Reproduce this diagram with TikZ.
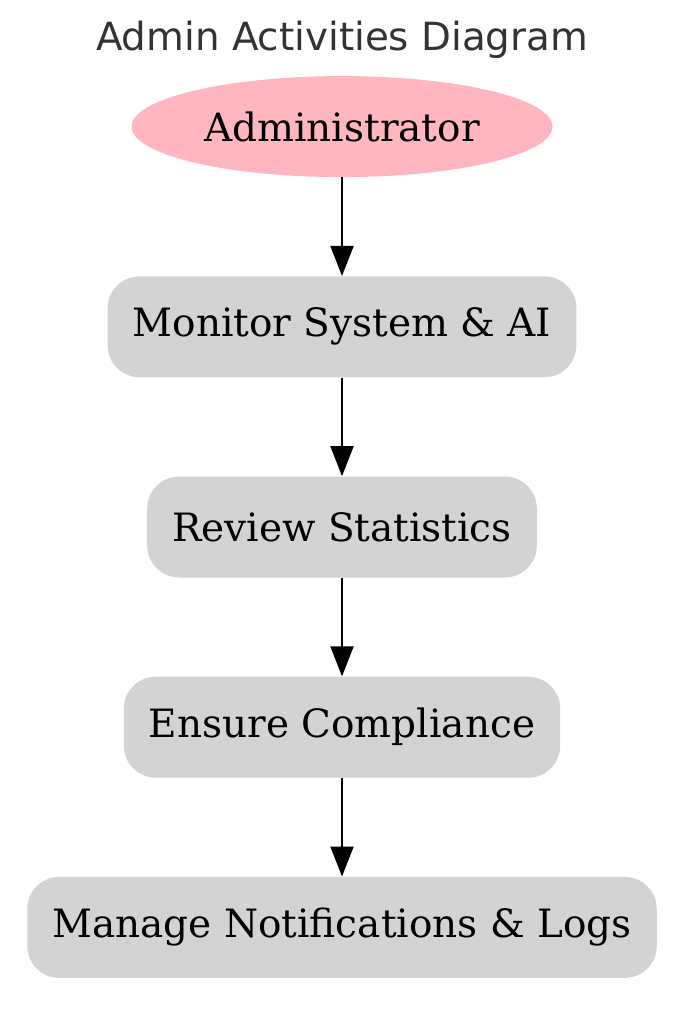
\documentclass[tikz,border=0pt]{standalone}
\usepackage{fontspec}
\setmainfont{DejaVu Serif}
\newfontfamily\titlefont{DejaVu Sans}
\usetikzlibrary{positioning,shapes.geometric,arrows.meta}
\definecolor{actorpink}{HTML}{FFB6C1}
\definecolor{taskgray}{HTML}{D3D3D3}
\definecolor{titlegray}{HTML}{333333}
\begin{document}
\begin{tikzpicture}
	[actor/.style={ellipse, fill=actorpink, minimum width=210.5pt, minimum height=50.5pt, font=\fontsize{19.5}{23}\selectfont},
	 task/.style={rectangle, rounded corners=16pt, fill=taskgray, minimum height=50.5pt, inner xsep=12.5pt, font=\fontsize{19.5}{23}\selectfont},
	 flow/.style={-{Triangle[length=15pt,width=11.5pt]}, line width=1pt},
	 node distance=49.2pt]
	\useasboundingbox (0,0) rectangle (342pt,-505pt);
	\node[text=titlegray, font=\titlefont\fontsize{19.4}{23}\selectfont] (title) at (171pt,-20pt) {Admin Activities Diagram};
	\node[actor] (admin) at (171pt,-63.3pt) {Administrator};
	\node[task, below=of admin] (monitor) {Monitor System \& AI};
	\node[task, below=of monitor] (review) {Review Statistics};
	\node[task, below=of review] (ensure) {Ensure Compliance};
	\node[task, below=of ensure] (manage) {Manage Notifications \& Logs};
	\draw[flow] (admin) -- (monitor);
	\draw[flow] (monitor) -- (review);
	\draw[flow] (review) -- (ensure);
	\draw[flow] (ensure) -- (manage);
\end{tikzpicture}
\end{document}
